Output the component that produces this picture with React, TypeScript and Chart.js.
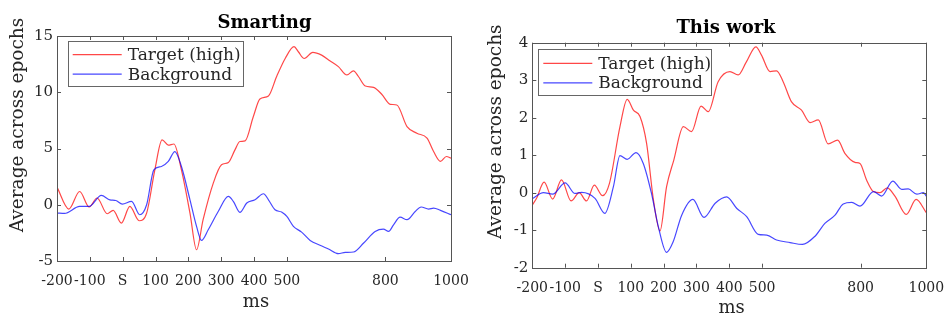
import React, { useEffect, useRef } from 'react';
import { Chart, registerables } from 'chart.js';

Chart.register(...registerables);

// ---------- data ----------
const X_TICKS = [-200, -100, 0, 100, 200, 300, 400, 500, 800, 1000];
const X_TICK_LABELS = ['-200', '-100', 'S', '100', '200', '300', '400', '500', '800', '1000'];
const SMARTING_Y_TICKS = [-5, 0, 5, 10, 15];
const THISWORK_Y_TICKS = [-2, -1, 0, 1, 2, 3, 4];
const SERIES_NAMES = ['Target (high)', 'Background'];
const TITLES = ['Smarting', 'This work'];
const X_LABEL = 'ms';
const Y_LABEL = 'Average across epochs';

const SMARTING_TARGET_MS = [-200, -164, -131, -102, -78, -47, -29, -4, 22, 50, 73, 98, 120, 139, 156, 179, 205, 225, 245, 276, 301, 322, 342, 357, 373, 398, 418, 444, 469, 495, 522, 535, 553, 579, 606, 632, 657, 683, 703, 718, 739, 764, 789, 815, 835, 866, 896, 927, 947, 968, 986, 1000];
const SMARTING_TARGET = [1.57, -0.38, 1.18, -0.2, 0.6, -0.8, -0.5, -1.63, -0.15, -1.42, -0.74, 3.1, 5.77, 5.3, 5.4, 3.1, -0.74, -4.0, -1.33, 1.92, 3.55, 3.76, 4.88, 5.62, 5.68, 7.84, 9.4, 9.67, 11.4, 13.0, 14.05, 13.6, 13.0, 13.55, 13.3, 12.78, 12.28, 11.54, 11.9, 11.4, 10.56, 10.44, 9.82, 8.93, 8.87, 6.95, 6.36, 5.92, 4.73, 3.85, 4.29, 4.14];

const SMARTING_BG_MS = [-200, -177, -131, -102, -65, -39, -21, -1, 27, 52, 73, 95, 118, 139, 159, 179, 205, 225, 240, 261, 291, 322, 337, 357, 378, 403, 429, 444, 464, 484, 500, 520, 545, 571, 601, 627, 657, 678, 703, 734, 769, 794, 810, 825, 845, 866, 891, 909, 932, 947, 968, 1000];
const SMARTING_BG = [-0.74, -0.77, -0.15, -0.15, 0.83, 0.44, 0.38, 0.06, 0.3, -0.89, 0, 3.1, 3.4, 3.85, 4.73, 3.4, 0.44, -1.92, -3.17, -2.2, -0.6, 0.74, 0.3, -0.68, 0.15, 0.44, 0.98, 0.44, -0.44, -0.65, -1.04, -1.92, -2.43, -3.17, -3.6, -3.93, -4.35, -4.23, -4.2, -3.4, -2.37, -2.16, -2.37, -1.78, -1.1, -1.33, -0.6, -0.2, -0.38, -0.3, -0.5, -0.89];

const THISWORK_TARGET_MS = [-200, -187, -164, -138, -111, -82, -57, -35, -11, 14, 35, 67, 89, 108, 128, 148, 169, 189, 209, 231, 260, 285, 314, 336, 366, 402, 427, 452, 481, 498, 524, 544, 564, 589, 620, 646, 671, 701, 730, 752, 783, 798, 818, 839, 859, 881, 905, 939, 969, 1000];
const THISWORK_TARGET = [-0.33, -0.15, 0.28, -0.17, 0.34, -0.22, 0, -0.22, 0.2, -0.08, 0.25, 1.76, 2.49, 2.2, 2.03, 1.32, -0.2, -1.02, 0.16, 0.87, 1.76, 1.63, 2.31, 2.16, 2.96, 3.23, 3.14, 3.49, 3.89, 3.67, 3.23, 3.25, 2.96, 2.43, 2.2, 1.87, 1.94, 1.3, 1.4, 1.05, 0.81, 0.78, 0.34, 0.03, 0, 0.13, -0.1, -0.58, -0.18, -0.53];

const THISWORK_BG_MS = [-200, -166, -138, -100, -70, -50, -9, 21, 47, 67, 89, 116, 138, 163, 184, 209, 229, 255, 289, 323, 357, 392, 423, 453, 488, 514, 544, 585, 623, 661, 691, 722, 747, 773, 798, 839, 864, 898, 925, 945, 971, 991, 1000];
const THISWORK_BG = [-0.16, 0, -0.04, 0.26, -0.02, 0.01, -0.15, -0.55, 0.16, 0.99, 0.89, 1.07, 0.78, -0.02, -0.91, -1.59, -1.31, -0.6, -0.18, -0.66, -0.28, -0.11, -0.42, -0.64, -1.11, -1.13, -1.26, -1.33, -1.38, -1.16, -0.82, -0.6, -0.3, -0.26, -0.36, 0.03, -0.09, 0.31, 0.09, 0.1, -0.04, 0, -0.09];

// ---------- styling / layout ----------
const FONT = '"DejaVu Serif", serif';
const RED = 'rgba(255,0,0,0.72)';
const BLUE = 'rgba(0,0,255,0.72)';
const AXIS = '#555555';
const TEXT = '#262626';

type Panel = {
  left: number; width: number; height: number;
  area: { left: number; right: number; top: number; bottom: number };
  yMin: number; yMax: number; yTicks: number[];
  title: string; titlePos: [number, number];
  yLabelPos: [number, number]; xLabelPos: [number, number];
  legendBox: [number, number, number, number];
  target: { ms: number[]; v: number[] };
  bg: { ms: number[]; v: number[] };
};

const PANELS: Panel[] = [
  {
    left: 0, width: 470, height: 316,
    area: { left: 57, right: 451, top: 36, bottom: 261 },
    yMin: -5, yMax: 15, yTicks: SMARTING_Y_TICKS,
    title: TITLES[0], titlePos: [264.5, 23],
    yLabelPos: [18.5, 125], xLabelPos: [256, 302],
    legendBox: [67.7, 40.7, 175, 45.3],
    target: { ms: SMARTING_TARGET_MS, v: SMARTING_TARGET },
    bg: { ms: SMARTING_BG_MS, v: SMARTING_BG },
  },
  {
    left: 470, width: 474, height: 316,
    area: { left: 62.3, right: 456.3, top: 42.7, bottom: 267.7 },
    yMin: -2, yMax: 4, yTicks: THISWORK_Y_TICKS,
    title: TITLES[1], titlePos: [256, 28.5],
    yLabelPos: [26, 131.7], xLabelPos: [261.7, 308],
    legendBox: [68.3, 49.3, 172.7, 45.7],
    target: { ms: THISWORK_TARGET_MS, v: THISWORK_TARGET },
    bg: { ms: THISWORK_BG_MS, v: THISWORK_BG },
  },
];

function zip(ms: number[], v: number[]) {
  return ms.map((x, i) => ({ x, y: v[i] }));
}

function makeDecor(p: Panel) {
  return {
    id: 'decor',
    afterDraw(chart: any) {
      const ctx = chart.ctx as CanvasRenderingContext2D;
      const a = chart.chartArea;
      const xs = chart.scales.x;
      const ys = chart.scales.y;
      ctx.save();
      // inward ticks
      ctx.strokeStyle = AXIS;
      ctx.lineWidth = 1;
      ctx.beginPath();
      const TL = 4;
      for (const t of xs.ticks) {
        const px = Math.round(xs.getPixelForValue(t.value)) + 0.5;
        ctx.moveTo(px, a.bottom); ctx.lineTo(px, a.bottom - TL);
        ctx.moveTo(px, a.top); ctx.lineTo(px, a.top + TL);
      }
      for (const t of ys.ticks) {
        const py = Math.round(ys.getPixelForValue(t.value)) + 0.5;
        ctx.moveTo(a.left, py); ctx.lineTo(a.left + TL, py);
        ctx.moveTo(a.right, py); ctx.lineTo(a.right - TL, py);
      }
      ctx.stroke();
      // frame
      ctx.strokeRect(Math.round(a.left) + 0.5, Math.round(a.top) + 0.5, Math.round(a.right - a.left), Math.round(a.bottom - a.top));

      // legend
      const [bx, by, bw, bh] = p.legendBox;
      ctx.fillStyle = '#ffffff';
      ctx.fillRect(bx, by, bw, bh);
      ctx.strokeStyle = '#666666';
      ctx.strokeRect(Math.round(bx) + 0.5, Math.round(by) + 0.5, Math.round(bw), Math.round(bh));
      const rows = [
        { name: SERIES_NAMES[0], color: RED, y: by + 14 },
        { name: SERIES_NAMES[1], color: BLUE, y: by + 33.5 },
      ];
      ctx.font = `17px ${FONT}`;
      ctx.textBaseline = 'middle';
      ctx.textAlign = 'left';
      for (const r of rows) {
        ctx.strokeStyle = r.color;
        ctx.lineWidth = 1.2;
        ctx.beginPath();
        ctx.moveTo(bx + 5, r.y); ctx.lineTo(bx + 54, r.y);
        ctx.stroke();
        ctx.fillStyle = TEXT;
        ctx.fillText(r.name, bx + 60, r.y + 1);
      }

      // title
      ctx.fillStyle = '#000000';
      ctx.font = `bold 18px ${FONT}`;
      ctx.textAlign = 'center';
      ctx.fillText(p.title, p.titlePos[0], p.titlePos[1]);
      // axis labels
      ctx.fillStyle = TEXT;
      ctx.font = `18px ${FONT}`;
      ctx.fillText(X_LABEL, p.xLabelPos[0], p.xLabelPos[1]);
      ctx.save();
      ctx.translate(p.yLabelPos[0], p.yLabelPos[1]);
      ctx.rotate(-Math.PI / 2);
      ctx.font = `18.5px ${FONT}`;
      ctx.fillText(Y_LABEL, 0, 0);
      ctx.restore();
      ctx.restore();
    },
  };
}

function PanelChart({ p }: { p: Panel }) {
  const ref = useRef<HTMLCanvasElement>(null);
  useEffect(() => {
    const canvas = ref.current!;
    const chart = new Chart(canvas, {
      type: 'line',
      data: {
        datasets: [
          {
            label: SERIES_NAMES[0],
            data: zip(p.target.ms, p.target.v),
            borderColor: RED,
            borderWidth: 1.2,
            pointRadius: 0,
            cubicInterpolationMode: 'monotone',
            fill: false,
            order: 1,
          },
          {
            label: SERIES_NAMES[1],
            data: zip(p.bg.ms, p.bg.v),
            borderColor: BLUE,
            borderWidth: 1.2,
            pointRadius: 0,
            cubicInterpolationMode: 'monotone',
            fill: false,
            order: 0,
          },
        ],
      },
      options: {
        responsive: false,
        animation: false,
        devicePixelRatio: 1,
        events: [],
        layout: {
          padding: { left: 0, bottom: 0, top: p.area.top, right: p.width - p.area.right },
        },
        plugins: { legend: { display: false }, tooltip: { enabled: false }, title: { display: false } },
        scales: {
          x: {
            type: 'linear',
            min: -200,
            max: 1000,
            grid: { display: false, drawTicks: false },
            border: { display: false },
            afterBuildTicks: (s: any) => { s.ticks = X_TICKS.map((v) => ({ value: v })); },
            afterFit: (s: any) => {
              s.height = p.height - p.area.bottom;
              s.paddingLeft = 0; s.paddingRight = 0; s.paddingTop = 0; s.paddingBottom = 0;
            },
            ticks: {
              autoSkip: false,
              maxRotation: 0,
              minRotation: 0,
              padding: 12,
              color: TEXT,
              font: { family: FONT, size: 14 },
              callback: (_v: any, i: number) => X_TICK_LABELS[i],
            },
          },
          y: {
            type: 'linear',
            min: p.yMin,
            max: p.yMax,
            grid: { display: false, drawTicks: false },
            border: { display: false },
            afterBuildTicks: (s: any) => { s.ticks = p.yTicks.map((v) => ({ value: v })); },
            afterFit: (s: any) => {
              s.width = p.area.left;
              s.paddingLeft = 0; s.paddingRight = 0; s.paddingTop = 0; s.paddingBottom = 0;
            },
            ticks: {
              padding: 4,
              color: TEXT,
              font: { family: FONT, size: 15 },
              callback: (v: any) => String(v),
            },
          },
        },
      },
      plugins: [makeDecor(p)],
    });
    return () => chart.destroy();
  }, [p]);
  return (
    <canvas
      ref={ref}
      width={p.width}
      height={p.height}
      style={{ position: 'absolute', left: p.left, top: 0, width: p.width, height: p.height }}
    />
  );
}

export default function App() {
  return (
    <div style={{ position: 'fixed', left: 0, top: 0, width: 944, height: 316, background: '#ffffff' }}>
      {PANELS.map((p, i) => (
        <PanelChart key={i} p={p} />
      ))}
    </div>
  );
}
